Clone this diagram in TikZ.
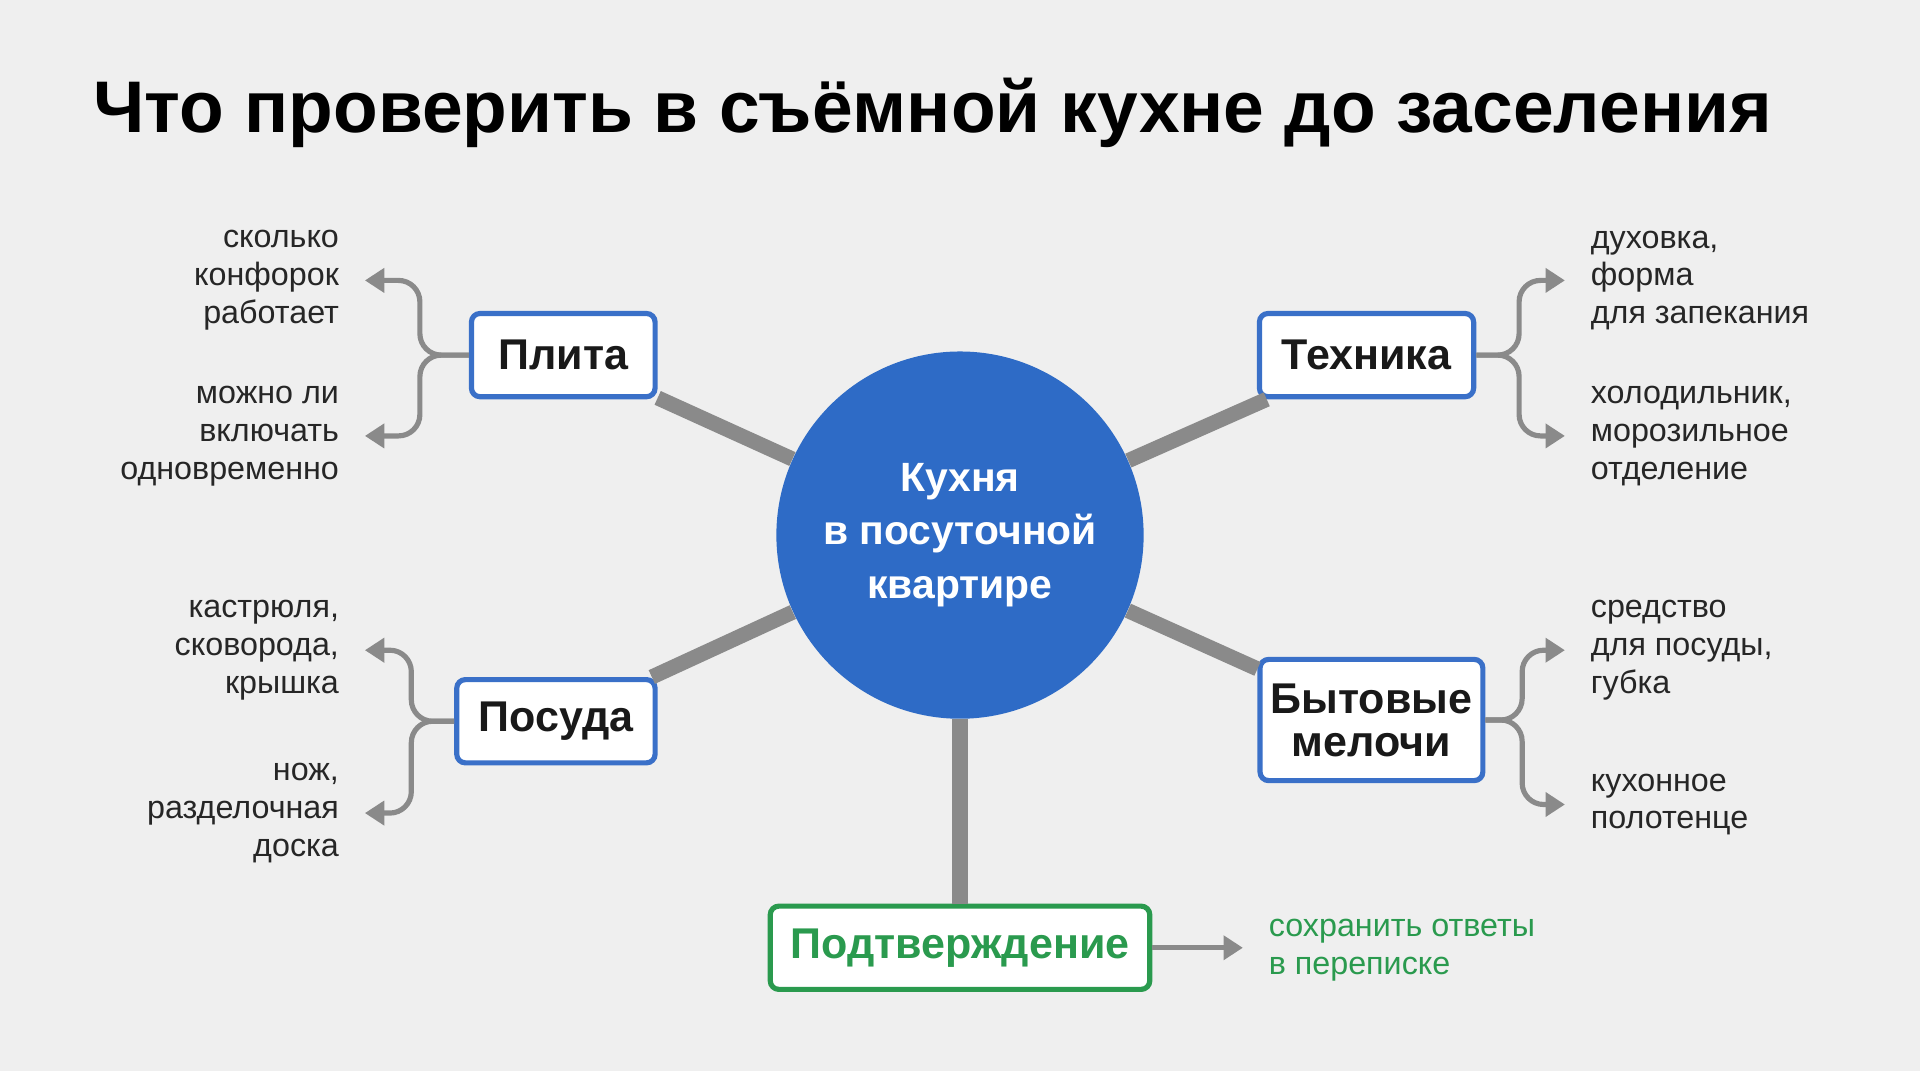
\documentclass[tikz,border=0pt]{standalone}
\usepackage{fontspec}
\setmainfont{Liberation Sans}
\usetikzlibrary{arrows.meta}
\definecolor{bg}{HTML}{EFEFEF}
\definecolor{hubblue}{HTML}{2E6BC6}
\definecolor{boxblue}{HTML}{3A70C8}
\definecolor{okgreen}{HTML}{2A9A4E}
\definecolor{spokegray}{HTML}{8A8A8A}
\begin{document}
\begin{tikzpicture}[x=0.02cm,y=-0.02cm,
  box/.style={draw=boxblue,line width=2.4pt,fill=white,rounded corners=4pt,align=center,
    font=\fontsize{20}{22}\selectfont\bfseries,text=black!90},
  spoke/.style={draw=spokegray,line width=7pt},
  branch/.style={draw=spokegray,line width=2.4pt,rounded corners=0.35cm,-{Triangle[length=9pt,width=11pt]}},
  lab/.style={font=\fontsize{15}{17.6}\selectfont,text=black!85}]
\fill[bg] (0,0) rectangle (1568,875);
\useasboundingbox (0,0) rectangle (1568,875);
\node (title) at (70,108) [anchor=base west,font=\fontsize{34}{40}\selectfont\bfseries] {Что проверить в съёмной кухне до заселения};
% hub and topics
\node (hub) at (784,437) [circle,fill=hubblue,minimum size=6cm,align=center,text=white,
  font=\fontsize{19}{25}\selectfont\bfseries] {Кухня\\в посуточной\\квартире};
\node (plita)   at (460,290) [box,minimum width=3cm,minimum height=1.36cm] {Плита};
\node (tech)    at (1116,290) [box,minimum width=3.5cm,minimum height=1.36cm] {Техника};
\node (posuda)  at (454,589) [box,minimum width=3.24cm,minimum height=1.36cm] {Посуда};
\node (melochi) at (1120,588) [box,minimum width=3.64cm,minimum height=1.98cm] {Бытовые\\[-2pt]мелочи};
\node (confirm) at (784,774) [box,draw=okgreen,text=okgreen,minimum width=6.2cm,minimum height=1.36cm] {Подтверждение};
\draw[spoke] (hub) -- (plita);
\draw[spoke] (hub) -- (tech);
\draw[spoke] (hub) -- (posuda);
\draw[spoke] (hub) -- (melochi);
\draw[spoke] (hub) -- (confirm);
% leaves
\node (p1) at (283,229) [lab,anchor=east,align=right] {сколько\\конфорок\\работает};
\node (p2) at (283,356) [lab,anchor=east,align=right] {можно ли\\включать\\одновременно};
\node (t1) at (1293,229) [lab,anchor=west,align=left] {духовка,\\форма\\для запекания};
\node (t2) at (1293,356) [lab,anchor=west,align=left] {холодильник,\\морозильное\\отделение};
\node (s1) at (283,531) [lab,anchor=east,align=right] {кастрюля,\\сковорода,\\крышка};
\node (s2) at (283,664) [lab,anchor=east,align=right] {нож,\\разделочная\\доска};
\node (m1) at (1293,531) [lab,anchor=west,align=left] {средство\\для посуды,\\губка};
\node (m2) at (1293,657) [lab,anchor=west,align=left] {кухонное\\полотенце};
\node (c1) at (1030,776) [lab,anchor=west,align=left,text=okgreen] {сохранить ответы\\в переписке};
% brackets
\draw[branch] (plita.west) -- ++(-40,0) |- ([xshift=0.3cm]p1.east);
\draw[branch] (plita.west) -- ++(-40,0) |- ([xshift=0.3cm]p2.east);
\draw[branch] (tech.east) -- ++(35,0) |- ([xshift=-0.3cm]t1.west);
\draw[branch] (tech.east) -- ++(35,0) |- ([xshift=-0.3cm]t2.west);
\draw[branch] (posuda.west) -- ++(-35,0) |- ([xshift=0.3cm]s1.east);
\draw[branch] (posuda.west) -- ++(-35,0) |- ([xshift=0.3cm]s2.east);
\draw[branch] (melochi.east) -- ++(30,0) |- ([xshift=-0.3cm]m1.west);
\draw[branch] (melochi.east) -- ++(30,0) |- ([xshift=-0.3cm]m2.west);
\draw[branch,rounded corners=0pt] (confirm.east) -- ([xshift=-0.3cm]c1.west |- confirm.east);
\end{tikzpicture}
\end{document}
